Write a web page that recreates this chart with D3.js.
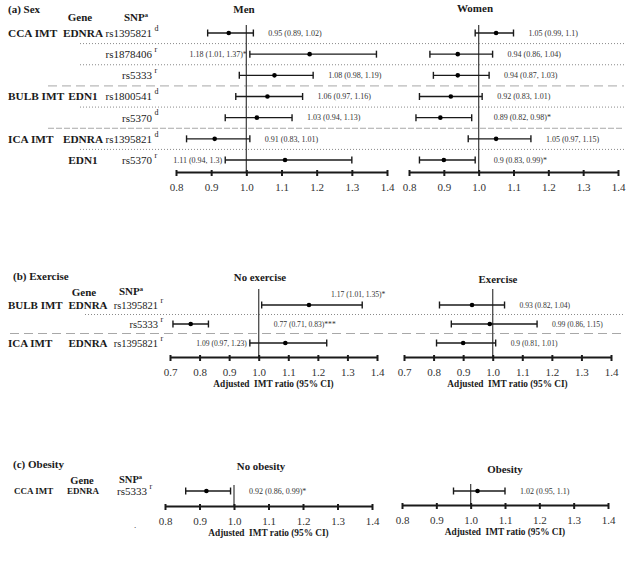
<!DOCTYPE html>
<html>
<head>
<meta charset="utf-8">
<script src="https://cdn.jsdelivr.net/npm/d3@7"></script>
<style>
  body { margin: 0; background: #fff; }
  svg { display: block; }
  svg text { font-family: "Liberation Serif", "Times New Roman", serif !important; }
</style>
</head>
<body>
<div id="chart"></div>
<script>
// ---------- Data ----------
// Tick values
const ticksSex = [0.8, 0.9, 1.0, 1.1, 1.2, 1.3, 1.4];
const ticksExercise = [0.7, 0.8, 0.9, 1.0, 1.1, 1.2, 1.3, 1.4];
const ticksObesity = [0.8, 0.9, 1.0, 1.1, 1.2, 1.3, 1.4];

// (a) Sex
const sexGroups = ["CCA IMT", "", "", "BULB IMT", "", "ICA IMT", ""];
const sexGenes = ["EDNRA", "", "", "EDN1", "", "EDNRA", "EDN1"];
const sexSnps = ["rs1395821", "rs1878406", "rs5333", "rs1800541", "rs5370", "rs1395821", "rs5370"];
const sexModels = ["d", "r", "r", "d", "d", "d", "r"];
const sexSeparators = ["dot", "dot", "dash", "dot", "dash2", "dot"];
const menEst = [0.95, 1.18, 1.08, 1.06, 1.03, 0.91, 1.11];
const menLo = [0.89, 1.01, 0.98, 0.97, 0.94, 0.83, 0.94];
const menHi = [1.02, 1.37, 1.19, 1.16, 1.13, 1.01, 1.3];
const menSig = ["", "*", "", "", "", "", ""];
const womenEst = [1.05, 0.94, 0.94, 0.92, 0.89, 1.05, 0.9];
const womenLo = [0.99, 0.86, 0.87, 0.83, 0.82, 0.97, 0.83];
const womenHi = [1.1, 1.04, 1.03, 1.01, 0.98, 1.15, 0.99];
const womenSig = ["", "", "", "", "*", "", "*"];

// (b) Exercise
const exGroups = ["BULB IMT", "", "ICA IMT"];
const exGenes = ["EDNRA", "", "EDNRA"];
const exSnps = ["rs1395821", "rs5333", "rs1395821"];
const exModels = ["r", "r", "r"];
const exSeparators = ["dot", "dash"];
const noExEst = [1.17, 0.77, 1.09];
const noExLo = [1.01, 0.71, 0.97];
const noExHi = [1.35, 0.83, 1.23];
const noExSig = ["*", "***", ""];
const noExLabelSide = ["above", "auto", "auto"];
const yesExEst = [0.93, 0.99, 0.9];
const yesExLo = [0.82, 0.86, 0.81];
const yesExHi = [1.04, 1.15, 1.01];
const yesExSig = ["", "", ""];

// (c) Obesity
const obGroups = ["CCA IMT"];
const obGenes = ["EDNRA"];
const obSnps = ["rs5333"];
const obModels = ["r"];
const noObEst = [0.92];
const noObLo = [0.86];
const noObHi = [0.99];
const noObSig = ["*"];
const yesObEst = [1.02];
const yesObLo = [0.95];
const yesObHi = [1.1];
const yesObSig = [""];

// ---------- Drawing ----------
const svg = d3.select("#chart").append("svg").attr("width", 628).attr("height", 581);
const ink = "#1a1a1a";

function label(x, y, s, o = {}) {
  return svg.append("text")
    .attr("x", x).attr("y", y).attr("dy", "0.35em")
    .attr("font-size", o.size || 11)
    .attr("font-weight", o.bold ? "bold" : "normal")
    .attr("text-anchor", o.anchor || "start")
    .attr("fill", ink)
    .text(s);
}

function snpHeader(x, y, size) {
  const t = label(x, y, "SNP", { size: size, bold: true });
  t.append("tspan").attr("dy", -4).attr("font-size", 6.5).text("a");
}

// row labels: group, gene, snp + superscript
function rowLabels(rowY, groups, genes, snps, models, c) {
  groups.forEach((s, i) => s && label(c.groupX, rowY(i), s, { size: c.groupSize, bold: true }));
  genes.forEach((s, i) => s && label(c.geneX, rowY(i), s, { size: c.geneSize, bold: true, anchor: "middle" }));
  snps.forEach((s, i) => {
    label(c.snpX, rowY(i), s, { size: c.snpSize, anchor: "end" });
    label(c.snpX + 2.5, rowY(i) - 5, models[i], { size: 8 });
  });
}

function separators(rowY, kinds, c) {
  kinds.forEach((k, i) => {
    const y = (rowY(i) + rowY(i + 1)) / 2;
    svg.append("line")
      .attr("x1", k === "dot" ? c.dotX : c.dashX).attr("x2", 624)
      .attr("y1", y).attr("y2", y)
      .attr("stroke", k === "dot" ? "#8a8a8a" : "#a8a8a8")
      .attr("stroke-width", 1)
      .attr("stroke-dasharray", k === "dot" ? "1,2" : k === "dash" ? "9,5" : "6,2");
  });
}

function forest(x, rowY, est, lo, hi, sig, o) {
  const g = svg.append("g");
  const rows = d3.range(est.length);

  // reference line at 1.0
  g.append("line")
    .attr("x1", x(1)).attr("x2", x(1))
    .attr("y1", o.top).attr("y2", o.axisY)
    .attr("stroke", "#4a4a4a").attr("stroke-width", 1.3);

  // CI lines
  g.selectAll(".ci").data(rows).join("line")
    .attr("x1", (i) => x(lo[i])).attr("x2", (i) => x(hi[i]))
    .attr("y1", (i) => rowY(i)).attr("y2", (i) => rowY(i))
    .attr("stroke", ink).attr("stroke-width", 1.4);

  // caps
  const caps = rows.flatMap((i) => [[i, lo[i]], [i, hi[i]]]);
  g.selectAll(".cap").data(caps).join("line")
    .attr("x1", (d) => x(d[1])).attr("x2", (d) => x(d[1]))
    .attr("y1", (d) => rowY(d[0]) - 3.5).attr("y2", (d) => rowY(d[0]) + 3.5)
    .attr("stroke", ink).attr("stroke-width", 1.4);

  // estimates
  g.selectAll("circle").data(rows).join("circle")
    .attr("cx", (i) => x(est[i])).attr("cy", (i) => rowY(i))
    .attr("r", 2.3).attr("fill", "#000");

  // value labels
  const [, r1] = x.range();
  rows.forEach((i) => {
    const t = g.append("text")
      .attr("y", rowY(i)).attr("dy", "0.35em")
      .attr("font-size", o.valueSize).attr("fill", "#333")
      .text(`${est[i]} (${lo[i]}, ${hi[i]})${sig[i]}`);
    const side = o.side ? o.side[i] : "auto";
    if (side === "above") {
      t.attr("x", x(est[i]) + 22).attr("y", rowY(i) - 11);
      return;
    }
    const w = t.node().getComputedTextLength();
    const xr = Math.max(x(hi[i]), x(1)) + 15;
    if (xr + w <= r1 + 10) t.attr("x", xr);
    else t.attr("x", x(lo[i]) - 3).attr("text-anchor", "end");
  });

  // axis
  const axis = d3.axisBottom(x)
    .tickValues(o.ticks)
    .tickFormat(d3.format(".1f"))
    .tickSize(4).tickSizeOuter(0).tickPadding(7);
  const ag = g.append("g").attr("transform", `translate(0,${o.axisY})`).call(axis);
  ag.select(".domain").attr("stroke", ink).attr("stroke-width", 2);
  ag.selectAll(".tick line").attr("stroke", ink).attr("stroke-width", 2).attr("y1", -2);
  ag.selectAll(".tick text").attr("font-size", 11).attr("fill", "#333");

  if (o.title) {
    label((x.range()[0] + x.range()[1]) / 2, o.axisY + 27, o.title, { size: 9.3, bold: true, anchor: "middle" })
      .style("white-space", "pre");
  }
}

const axisTitle = "Adjusted  IMT ratio (95% CI)";

// ----- (a) Sex -----
label(8, 9, "(a) Sex", { size: 11, bold: true });
label(80, 17, "Gene", { size: 11, bold: true, anchor: "middle" });
snpHeader(124, 17, 11);
label(244, 9, "Men", { size: 11, bold: true, anchor: "middle" });
label(475, 8, "Women", { size: 11, bold: true, anchor: "middle" });

const rowA = d3.scalePoint().domain(d3.range(sexSnps.length)).range([33, 160]);
separators(rowA, sexSeparators, { dotX: 80, dashX: 48 });
rowLabels(rowA, sexGroups, sexGenes, sexSnps, sexModels,
  { groupX: 8, groupSize: 11.3, geneX: 83, geneSize: 11.3, snpX: 152, snpSize: 11 });

const xMen = d3.scaleLinear().domain([0.8, 1.4]).range([176, 387]);
const xWomen = d3.scaleLinear().domain([0.8, 1.4]).range([409, 618]);
forest(xMen, rowA, menEst, menLo, menHi, menSig, { top: 25, axisY: 172, ticks: ticksSex, valueSize: 8 });
forest(xWomen, rowA, womenEst, womenLo, womenHi, womenSig, { top: 25, axisY: 172, ticks: ticksSex, valueSize: 8 });

// ----- (b) Exercise -----
label(13, 276, "(b) Exercise", { size: 11, bold: true });
label(84, 292, "Gene", { size: 11, bold: true, anchor: "middle" });
snpHeader(119, 291, 11);
label(260, 277, "No exercise", { size: 10.8, bold: true, anchor: "middle" });
label(498, 279, "Exercise", { size: 10.8, bold: true, anchor: "middle" });

const rowB = d3.scalePoint().domain(d3.range(exSnps.length)).range([305, 343]);
separators(rowB, exSeparators, { dotX: 85, dashX: 10 });
rowLabels(rowB, exGroups, exGenes, exSnps, exModels,
  { groupX: 8, groupSize: 11, geneX: 88, geneSize: 11, snpX: 158, snpSize: 10.5 });

const xNoEx = d3.scaleLinear().domain([0.7, 1.4]).range([170, 377]);
const xYesEx = d3.scaleLinear().domain([0.7, 1.4]).range([404, 611]);
forest(xNoEx, rowB, noExEst, noExLo, noExHi, noExSig,
  { top: 289, axisY: 357, ticks: ticksExercise, valueSize: 7.6, side: noExLabelSide, title: axisTitle });
forest(xYesEx, rowB, yesExEst, yesExLo, yesExHi, yesExSig,
  { top: 289, axisY: 357, ticks: ticksExercise, valueSize: 7.6, title: axisTitle });

// ----- (c) Obesity -----
label(13, 464, "(c) Obesity", { size: 11, bold: true });
label(82, 480, "Gene", { size: 10.5, bold: true, anchor: "middle" });
snpHeader(119, 479, 10.5);
label(261, 466, "No obesity", { size: 10.8, bold: true, anchor: "middle" });
label(505, 469, "Obesity", { size: 10.8, bold: true, anchor: "middle" });
label(134, 525, ".", { size: 9 });

const rowC = d3.scalePoint().domain([0]).range([491, 491]);
rowLabels(rowC, obGroups, obGenes, obSnps, obModels,
  { groupX: 14, groupSize: 9, geneX: 83, geneSize: 9, snpX: 147, snpSize: 11 });

const xNoOb = d3.scaleLinear().domain([0.8, 1.4]).range([165, 372]);
const xYesOb = d3.scaleLinear().domain([0.8, 1.4]).range([402, 608]);
forest(xNoOb, rowC, noObEst, noObLo, noObHi, noObSig,
  { top: 485, axisY: 506, ticks: ticksObesity, valueSize: 8, title: axisTitle });
forest(xYesOb, rowC, yesObEst, yesObLo, yesObHi, yesObSig,
  { top: 484, axisY: 505, ticks: ticksObesity, valueSize: 8, title: axisTitle });
</script>
</body>
</html>
